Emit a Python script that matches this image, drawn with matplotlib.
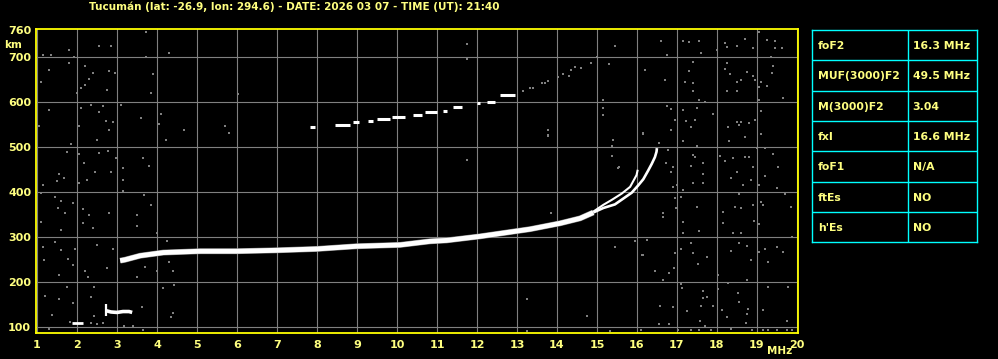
import matplotlib
matplotlib.use("Agg")
import matplotlib.pyplot as plt

W, H = 998, 359

TITLE = "Tucumán (lat: -26.9, lon: 294.6) - DATE: 2026 03 07 - TIME (UT): 21:40"

# F2 trace, common part (MHz, km)
f2_freq = [3.08, 3.2, 3.58, 4.16, 5.08, 5.99, 6.99, 7.99, 8.99, 10.08, 10.83, 11.24,
           12.08, 13.33, 14.08, 14.58, 14.91]
f2_height = [248, 250, 259, 266, 269, 269, 271, 274, 280, 283, 291, 293,
             302, 318, 331, 342, 355]

# outer branch near the cusp
outer_freq = [14.91, 15.16, 15.45, 15.66, 15.87, 16.03, 16.16, 16.28, 16.37, 16.45, 16.49, 16.5]
outer_height = [355, 365, 373, 386, 399, 415, 429, 448, 463, 478, 490, 498]

# inner branch
inner_freq = [14.91, 15.16, 15.37, 15.62, 15.83, 15.99, 16.02]
inner_height = [357, 372, 383, 397, 412, 438, 450]

# second hop, broken segments: start freq, end freq, height
hop2_f0 = [7.82, 8.45, 8.91, 9.28, 9.49, 9.87, 10.41, 10.70, 11.16, 11.41, 11.99, 12.24, 12.58]
hop2_f1 = [7.95, 8.83, 9.06, 9.41, 9.83, 10.20, 10.62, 10.99, 11.24, 11.62, 12.08, 12.45, 12.95]
hop2_h = [544, 549, 555, 558, 563, 567, 572, 578, 581, 589, 598, 601, 615]

# faint continuation of second hop
hop2_gray_freq = [13.14, 13.33, 13.39, 13.62, 13.70, 13.78, 14.03, 14.14, 14.31, 14.34,
                  14.45, 14.59, 14.84, 14.99, 15.30, 15.45]
hop2_gray_height = [624, 631, 631, 642, 642, 648, 655, 663, 659, 672,
                    679, 675, 688, 700, 685, 724]

# E and sporadic-E traces
e_freq = [1.87, 2.16]
e_height = [109, 109]
es_freq = [2.72, 2.85, 3.0, 3.15, 3.3, 3.38]
es_height = [137, 134, 133, 135, 135, 133]

# background noise speckles (MHz, km)
noise_points = [
    (1.14, 705), (1.35, 705), (1.81, 716), (1.93, 701), (2.56, 724), (2.85, 724), (3.72, 757),
    (3.72, 701), (4.31, 709), (1.31, 672), (1.81, 687), (2.21, 681), (2.39, 664), (2.79, 670),
    (2.96, 664), (3.89, 663), (2.29, 651), (2.21, 638), (1.1, 646), (2.1, 631), (2.75, 627),
    (1.99, 621), (3.85, 620), (2.35, 594), (2.64, 592), (3.1, 594), (1.31, 583), (2.1, 587),
    (2.56, 579), (2.73, 559), (2.91, 555), (3.6, 566), (4.1, 574), (4.04, 552), (4.68, 538),
    (2.06, 547), (2.81, 538), (1.04, 547), (5.71, 547), (5.79, 532), (4.23, 516), (2.5, 516),
    (1.85, 507), (1.74, 490), (2.04, 485), (2.56, 488), (2.77, 492), (2.98, 476), (3.64, 477),
    (2.18, 466), (3.14, 453), (2.46, 444), (2.85, 446), (3.81, 458), (1.54, 441), (1.68, 432),
    (1.49, 424), (2.06, 421), (2.24, 427), (1.14, 416), (3.14, 427), (3.16, 403), (3.68, 394),
    (1.1, 399), (1.46, 390), (1.6, 381), (1.89, 377), (3.85, 372), (1.52, 364), (2.14, 362),
    (2.79, 355), (3.49, 350), (2.29, 350), (1.7, 355), (1.1, 335), (2.16, 332), (2.39, 320),
    (1.6, 316), (3.49, 324), (3.99, 309), (1.46, 290), (1.14, 279), (1.6, 272), (2.49, 283),
    (2.89, 274), (1.95, 274), (4.24, 292), (1.78, 251), (1.18, 250), (1.89, 238), (3.7, 235),
    (4.29, 244), (4.39, 226), (2.21, 226), (2.75, 231), (1.56, 216), (2.27, 212), (3.49, 211),
    (3.99, 224), (1.74, 189), (2.43, 190), (4.14, 187), (4.43, 194), (1.21, 170), (1.54, 162),
    (1.89, 153), (2.35, 168), (1.38, 127), (2.43, 125), (3.63, 144), (4.39, 131), (4.35, 122),
    (1.29, 96), (3.18, 103), (3.39, 103), (3.64, 94), (1.83, 111), (2.35, 109), (2.5, 108),
    (2.65, 109),
    (6.03, 618), (11.74, 729), (11.74, 696), (15.14, 605), (15.14, 588), (15.14, 571),
    (13.78, 539), (13.78, 525), (11.74, 472), (13.84, 355), (13.78, 527), (15.41, 516),
    (15.37, 503), (15.37, 481), (15.56, 455), (16.16, 531), (15.45, 279), (15.95, 292),
    (13.24, 162), (14.74, 125), (13.24, 92), (15.33, 92), (16.09, 94), (16.12, 261),
    (16.24, 294), (15.53, 453),
    (16.59, 737), (16.74, 705), (17.14, 737), (17.31, 733), (17.56, 735), (17.59, 710),
    (17.99, 715), (18.2, 731), (18.26, 722), (18.49, 724), (18.7, 740), (18.89, 720),
    (19.06, 755), (19.24, 738), (19.45, 737), (19.45, 720), (19.62, 720), (19.34, 700),
    (16.2, 672), (16.7, 650), (17.31, 670), (17.39, 690), (17.2, 646), (17.39, 642),
    (17.39, 624), (17.56, 605), (17.7, 601), (18.2, 673), (18.26, 687), (18.33, 663),
    (18.49, 646), (18.59, 650), (18.26, 624), (18.49, 624), (18.74, 668), (18.91, 658),
    (18.95, 650), (19.06, 633), (19.09, 646), (19.24, 636), (19.37, 664), (19.41, 681),
    (19.64, 609), (19.04, 605), (16.76, 592), (16.84, 584), (16.95, 561), (16.85, 538),
    (16.14, 530), (16.56, 509), (17.14, 583), (17.23, 559), (17.34, 544), (17.45, 561),
    (17.49, 587), (17.89, 574), (17.14, 513), (17.51, 503), (18.28, 544), (18.31, 513),
    (18.49, 557), (18.56, 550), (18.59, 557), (18.81, 553), (18.7, 522), (18.95, 561),
    (19.09, 581), (19.09, 530), (18.99, 498), (19.2, 498), (16.78, 494), (16.72, 464),
    (16.89, 457), (16.84, 446), (16.99, 416), (17.14, 405), (16.89, 412), (17.39, 483),
    (17.45, 479), (17.34, 458), (17.64, 466), (17.66, 441), (17.39, 420), (17.64, 421),
    (18.08, 481), (18.2, 470), (18.34, 431), (18.41, 476), (18.49, 446), (18.7, 479),
    (18.81, 478), (18.89, 457), (18.84, 427), (18.64, 416), (19.04, 416), (19.2, 435),
    (19.39, 485), (19.53, 455), (19.49, 409), (17.09, 390), (17.49, 367), (16.95, 387),
    (16.98, 364), (16.64, 355), (16.64, 346), (18.14, 357), (18.45, 368), (18.56, 396),
    (18.59, 364), (18.89, 372), (18.93, 337), (19.09, 379), (19.14, 372), (19.7, 396),
    (19.84, 367), (17.14, 333), (17.14, 310), (17.56, 315), (18.14, 331), (18.39, 310),
    (18.59, 310), (19.06, 330), (19.87, 301), (16.14, 261), (16.95, 264), (17.09, 273),
    (17.34, 288), (17.39, 264), (17.53, 241), (17.74, 257), (18.34, 270), (18.56, 287),
    (18.74, 281), (18.84, 250), (19.06, 268), (19.2, 273), (19.49, 278), (19.64, 268),
    (19.28, 244), (16.45, 226), (16.93, 231), (16.81, 221), (16.64, 204), (17.09, 196),
    (17.12, 187), (17.64, 181), (17.66, 164), (17.74, 168), (18.03, 216), (18.03, 184),
    (18.28, 199), (18.53, 177), (18.74, 204), (18.56, 157), (18.78, 140), (19.28, 190),
    (19.78, 190), (19.16, 138), (16.58, 147), (16.89, 144), (17.24, 137), (17.59, 147),
    (17.91, 147), (18.12, 138), (18.26, 122), (18.74, 130), (16.56, 107), (16.81, 107),
    (17.58, 115), (17.7, 103), (18.73, 109), (19.74, 113), (17.03, 95), (17.34, 94),
    (17.56, 95), (17.84, 95), (18.34, 96), (18.87, 95), (19.16, 95), (19.28, 94),
    (19.49, 94), (19.74, 95), (19.87, 95),
]

param_names = ["foF2", "MUF(3000)F2", "M(3000)F2", "fxI", "foF1", "ftEs", "h'Es"]
param_values = ["16.3 MHz", "49.5 MHz", "3.04", "16.6 MHz", "N/A", "NO", "NO"]

TEXT_COLOR = "#ffff80"
FRAME_COLOR = "#ffff00"
GRID_COLOR = "#808080"
CYAN = "#00ffff"
FONT = dict(family="DejaVu Sans", weight="bold", size=7.5)
TABLE_FONT = dict(family="DejaVu Sans", weight="bold", size=7.8)


def px_box(x0, y0, x1, y1):
    return [x0 / W, 1 - y1 / H, (x1 - x0) / W, (y1 - y0) / H]


def draw_ionogram(fig):
    ax = fig.add_axes(px_box(36, 29.3, 797.7, 333))
    ax.set_facecolor("black")
    ax.set_xlim(0.975, 20.02)
    ax.set_ylim(87.3, 762)

    for f in range(1, 21):
        ax.axvline(f, color=GRID_COLOR, lw=0.8, zorder=1)
    for h in range(100, 800, 100):
        ax.axhline(h, color=GRID_COLOR, lw=0.8, zorder=1)

    nf = [p[0] for p in noise_points]
    nh = [p[1] for p in noise_points]
    ax.plot(nf, nh, ls="none", marker="s", ms=1.9, mew=0, color=GRID_COLOR, zorder=2)
    ax.plot(hop2_gray_freq, hop2_gray_height, ls="none", marker="s", ms=2.0, mew=0,
            color=GRID_COLOR, zorder=2)

    ax.plot(f2_freq, f2_height, color=GRID_COLOR, lw=4.2, solid_capstyle="butt", zorder=3)
    ax.plot(f2_freq, f2_height, color="white", lw=3.5, solid_capstyle="butt", zorder=3)
    ax.plot(outer_freq, outer_height, color="white", lw=1.9, solid_capstyle="butt", zorder=3)
    ax.plot(inner_freq, inner_height, color="white", lw=1.5, solid_capstyle="butt", zorder=3)

    for f0, f1, h in zip(hop2_f0, hop2_f1, hop2_h):
        ax.plot([f0, f1], [h, h], color="white", lw=2.2, solid_capstyle="butt", zorder=3)

    ax.plot(e_freq, e_height, color="white", lw=2.0, solid_capstyle="butt", zorder=3)
    ax.plot(es_freq, es_height, color="white", lw=2.6, solid_capstyle="butt", zorder=3)
    ax.plot(es_freq[0], es_height[0] + 2, marker="|", ms=8, mew=1.6, color="white", zorder=3)

    for s in ax.spines.values():
        s.set_color(FRAME_COLOR)
        s.set_linewidth(1.3)

    ax.set_xticks(range(1, 21))
    ax.set_xticklabels([str(f) for f in range(1, 21)])
    ax.set_yticks([100, 200, 300, 400, 500, 600, 700, 760])
    ax.set_yticklabels(["100", "200", "300", "400", "500", "600", "700", "760"])
    ax.tick_params(length=0, colors=TEXT_COLOR)
    ax.tick_params(axis="x", pad=5)
    ax.tick_params(axis="y", pad=3.5)
    for lab in ax.get_xticklabels() + ax.get_yticklabels():
        lab.set_fontfamily(FONT["family"])
        lab.set_fontweight("bold")
        lab.set_fontsize(8)
        lab.set_color(TEXT_COLOR)

    fig.text(13.5 / W, 1 - 45 / H, "km", ha="center", va="center", color=TEXT_COLOR, **FONT)
    fig.text(792 / W, 1 - 351.5 / H, "MHz", ha="right", va="center", color=TEXT_COLOR, **FONT)


def draw_table(fig):
    ax = fig.add_axes(px_box(812, 30, 977, 242.3))
    ax.set_facecolor("black")
    ax.set_xlim(0, 1)
    ax.set_ylim(len(param_names), 0)
    ax.set_xticks([])
    ax.set_yticks([])
    for s in ax.spines.values():
        s.set_color(CYAN)
        s.set_linewidth(1.0)
    split = (907.7 - 812) / (977 - 812)
    ax.axvline(split, color=CYAN, lw=1.0)
    for i in range(1, len(param_names)):
        ax.axhline(i, color=CYAN, lw=1.0)
    for i, (name, val) in enumerate(zip(param_names, param_values)):
        ax.text(0.035, i + 0.53, name, ha="left", va="center", color=TEXT_COLOR, **TABLE_FONT)
        ax.text(split + 0.03, i + 0.53, val, ha="left", va="center", color=TEXT_COLOR, **TABLE_FONT)


def main():
    fig = plt.figure(figsize=(W / 100, H / 100), dpi=100, facecolor="black")
    draw_ionogram(fig)
    draw_table(fig)
    fig.text(294 / W, 1 - 7 / H, TITLE, ha="center", va="center", color=TEXT_COLOR, **FONT)
    fig.savefig("out.png", dpi=100, facecolor="black")


if __name__ == "__main__":
    main()
